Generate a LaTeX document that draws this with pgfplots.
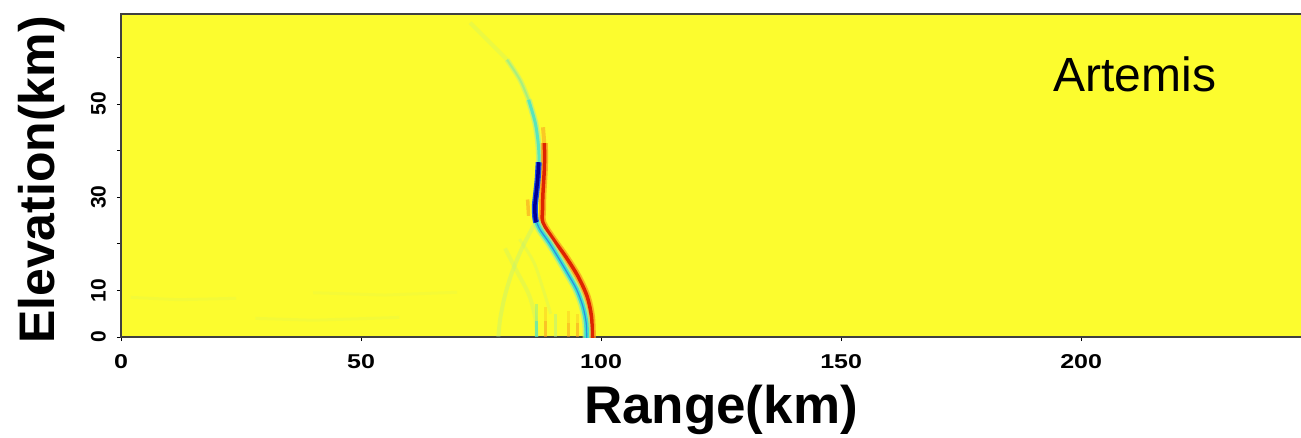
\documentclass[border=0pt]{standalone}
\usepackage{pgfplots}
\pgfplotsset{compat=1.18}
\usepackage{fontspec}
\setmainfont{Liberation Sans}
\newfontface\xtickface[FakeStretch=1.25]{Liberation Sans Bold}

\definecolor{fieldyellow}{RGB}{252,252,46}
\definecolor{wavecyan}{RGB}{64,226,206}
\definecolor{wavelight}{RGB}{168,238,150}
\definecolor{wavedeep}{RGB}{0,0,150}
\definecolor{waveblue}{RGB}{25,80,235}
\definecolor{wavered}{RGB}{222,36,0}
\definecolor{waveorange}{RGB}{250,150,30}
\definecolor{framegray}{RGB}{64,64,64}

% wavefront traces (range km, elevation km)
\pgfplotstableread{
x y
72.7 67.4
76.2 63.8
80.4 59.5
}\uppertop
\pgfplotstableread{
x y
80.4 59.5
83.1 55.2
84.9 50.9
}\uppermid
\pgfplotstableread{
x y
84.9 50.9
86.3 45.9
86.9 41.6
87.1 38.0
86.9 35.2
}\upperlow
\pgfplotstableread{
x y
87.0 37.5
86.8 34.0
86.5 31.0
86.2 28.0
86.3 25.5
86.5 24.6
}\cuspcore
\pgfplotstableread{
x y
86.5 24.8
87.3 23.0
89.2 20.2
91.1 17.0
93.0 13.7
94.9 10.2
96.2 6.6
96.9 3.0
97.0 -0.5
}\lowerbranch
\pgfplotstableread{
x y
88.2 41.6
88.2 36.6
87.9 31.0
87.8 27.3
87.9 24.5
90.1 20.9
92.6 17.3
95.2 13.0
97.1 8.7
98.0 4.4
98.2 -0.5
}\redbranch
\pgfplotstableread{
x y
87.9 45.0
88.1 42.5
88.2 41.0
}\redtop

\begin{document}
\begin{tikzpicture}
\begin{axis}[
  scale only axis, width=1181pt, height=323pt,
  xmin=0, xmax=246, ymin=0, ymax=69.3,
  axis background/.style={fill=fieldyellow},
  axis line style={framegray, line width=1.2pt},
  tick style={black, line width=0.8pt},
  tick align=outside, major tick length=4pt,
  xtick pos=bottom, ytick pos=left,
  xtick={0,50,100,150,200},
  ytick={0,10,20,30,40,50,60},
  yticklabels={0,10,,30,,50,},
  /pgf/number format/assume math mode=true,
  xticklabel style={font=\fontsize{20}{22}\xtickface, anchor=north, inner sep=0pt},
  xticklabel shift=13pt,
  yticklabel style={font=\fontsize{21}{23}\selectfont\bfseries, rotate=90, anchor=south, inner sep=0pt},
  yticklabel shift=11pt,
  xlabel={Range(km)}, ylabel={Elevation(km)},
  xlabel style={font=\fontsize{53}{56}\selectfont\bfseries, at={(axis description cs:0.508,-0.269)}, anchor=base, inner sep=0pt},
  ylabel style={font=\fontsize{50}{54}\selectfont\bfseries, at={(axis description cs:-0.0559,0.486)}, anchor=base, inner sep=0pt},
]
% faint low-level residue near the ground
\addplot[wavelight, line width=3pt, opacity=0.1] coordinates {(2,8.5) (12,8) (24,8.3)};
\addplot[wavelight, line width=3pt, opacity=0.1] coordinates {(28,4) (40,3.6) (58,4.2)};
\addplot[wavelight, line width=3pt, opacity=0.08] coordinates {(40,9.5) (55,9) (70,9.6)};
% secondary arrivals below the cusp
\addplot[wavelight, line width=4pt, opacity=0.3, smooth] coordinates {(86.0,24) (83.5,19) (81.5,14) (80,9) (79,4) (78.6,0)};
\addplot[wavelight, line width=4pt, opacity=0.22, smooth] coordinates {(80,19) (82.5,14) (85,9) (86.3,4) (86.6,0)};
\addplot[wavelight, line width=3pt, opacity=0.2, smooth] coordinates {(83,21) (86,16) (88,10) (89.5,5)};
% ringing stripes at the ground
\addplot[wavecyan, line width=3pt, opacity=0.65] coordinates {(86.6,0) (86.6,3.5)};
\addplot[wavecyan, line width=3pt, opacity=0.3] coordinates {(86.6,3.5) (86.6,7)};
\addplot[waveorange, line width=3pt, opacity=0.55] coordinates {(88.5,0) (88.5,3.5)};
\addplot[waveorange, line width=3pt, opacity=0.25] coordinates {(88.5,3.5) (88.5,6.5)};
\addplot[wavelight, line width=3pt, opacity=0.45] coordinates {(90.4,0) (90.4,5)};
\addplot[waveorange, line width=3pt, opacity=0.5] coordinates {(93.2,0) (93.2,3)};
\addplot[waveorange, line width=3pt, opacity=0.25] coordinates {(93.2,3) (93.2,5.5)};
\addplot[waveorange, line width=3pt, opacity=0.55] coordinates {(95.0,0) (95.0,3)};
\addplot[waveorange, line width=3pt, opacity=0.25] coordinates {(95.0,3) (95.0,5)};
% weak red lobe left of the cusp
\addplot[waveorange, line width=3.5pt, opacity=0.55] coordinates {(84.7,29.5) (84.9,26)};
% upper branch, fading with height
\addplot[wavelight, line width=4pt, opacity=0.2, smooth] table {\uppertop};
\addplot[wavelight, line width=5pt, opacity=0.45, smooth] table {\uppermid};
\addplot[wavecyan, line width=2pt, opacity=0.3, smooth] table {\uppermid};
\addplot[wavelight, line width=6pt, opacity=0.7, smooth] table {\upperlow};
\addplot[wavecyan, line width=3pt, opacity=0.8, smooth] table {\upperlow};
% red leading phase
\addplot[waveorange, line width=4pt, opacity=0.5, smooth] table {\redtop};
\addplot[waveorange, line width=7pt, opacity=0.75, smooth] table {\redbranch};
\addplot[wavered, line width=3.5pt, smooth] table {\redbranch};
% cyan trailing phase, lower branch
\addplot[wavelight, line width=8pt, opacity=0.75, smooth] table {\lowerbranch};
\addplot[wavecyan, line width=4.5pt, smooth] table {\lowerbranch};
\addplot[waveblue, line width=1.2pt, opacity=0.55, smooth] table {\lowerbranch};
% strong negative lobe at the cusp
\addplot[waveblue, line width=6pt, smooth] table {\cuspcore};
\addplot[wavedeep, line width=3.5pt, smooth] table {\cuspcore};
\node[anchor=base west, inner sep=0pt, font=\fontsize{48}{52}\selectfont] at (axis cs:194.2,52.6) {Artemis};
\end{axis}
\pgfresetboundingbox
\path[use as bounding box] (-121pt,-100pt) rectangle (1180pt,337pt);
\end{tikzpicture}
\end{document}
